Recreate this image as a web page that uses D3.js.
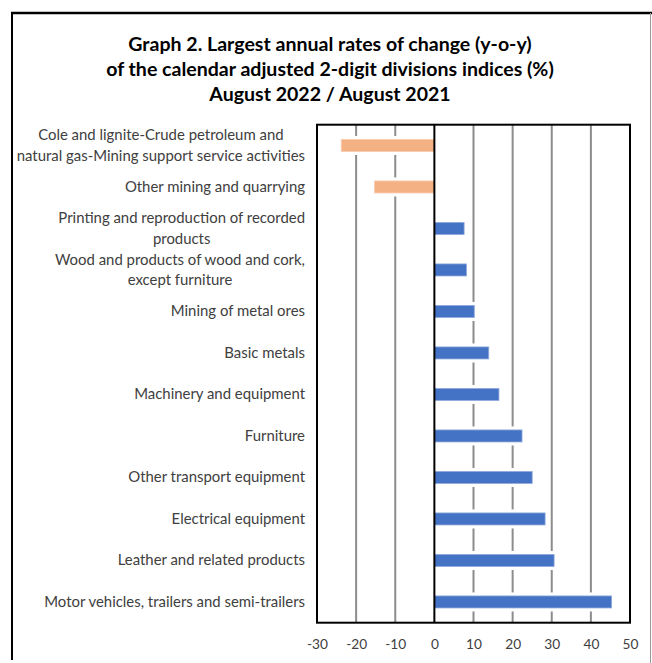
<!DOCTYPE html>
<html>
<head>
<meta charset="utf-8">
<script src="https://cdn.jsdelivr.net/npm/d3@7"></script>
<style>
  html, body { margin: 0; padding: 0; background: #fff; }
  svg { display: block; }
</style>
</head>
<body>
<svg id="chart" width="652" height="663"></svg>
<script>
const titleLines = [
  "Graph 2. Largest annual rates of change (y-o-y)",
  "of the calendar adjusted 2-digit divisions indices (%)",
  "August 2022 / August 2021"
];
const categories = [
  ["Cole and lignite-Crude petroleum and", "natural gas-Mining support service activities"],
  ["Other mining and quarrying"],
  ["Printing and reproduction of recorded", "products"],
  ["Wood and products of wood and cork,", "except furniture"],
  ["Mining of metal ores"],
  ["Basic metals"],
  ["Machinery and equipment"],
  ["Furniture"],
  ["Other transport equipment"],
  ["Electrical equipment"],
  ["Leather and related products"],
  ["Motor vehicles, trailers and semi-trailers"]
];
const values = [-23.8, -15.3, 7.6, 8.2, 10.2, 13.9, 16.5, 22.4, 25.0, 28.3, 30.6, 45.3];
const ticks = [-30, -20, -10, 0, 10, 20, 30, 40, 50];

const svg = d3.select("#chart");
const FONT = "Lato, 'Open Sans', sans-serif";

function fitSize(text, target, weight) {
  const t = svg.append("text").attr("font-family", FONT).attr("font-size", 20)
    .attr("font-weight", weight || "normal").text(text);
  const w = t.node().getComputedTextLength();
  t.remove();
  return 20 * target / w;
}
const titleSize = fitSize(titleLines[1], 448, "bold");
const labelSize = fitSize(categories[11][0], 261);
const tickSize = fitSize("-30", 21);

// outer chart frame
svg.append("line").attr("x1", 12).attr("x2", 12).attr("y1", 13).attr("y2", 660)
  .attr("stroke", "#000").attr("stroke-width", 2);
svg.append("line").attr("x1", 11).attr("x2", 652).attr("y1", 13).attr("y2", 13)
  .attr("stroke", "#000").attr("stroke-width", 2.5);
svg.append("line").attr("x1", 650.5).attr("x2", 650.5).attr("y1", 13).attr("y2", 663)
  .attr("stroke", "#999").attr("stroke-width", 1);

// title
svg.append("g").selectAll("text").data(titleLines).join("text")
  .attr("x", 330).attr("y", (d, i) => 51 + i * 25)
  .attr("text-anchor", "middle")
  .attr("font-family", FONT).attr("font-weight", "bold").attr("font-size", titleSize)
  .attr("fill", "#000").text(d => d);

const plot = { left: 317, right: 630, top: 124.7, bottom: 622.7 };
const x = d3.scaleLinear().domain([-30, 50]).range([plot.left, plot.right]);
const y = d3.scaleBand().domain(d3.range(categories.length))
  .range([plot.top, plot.bottom]).paddingInner(0.71).paddingOuter(0.355);

// gridlines
svg.append("g").selectAll("line").data(ticks.filter(t => t !== 0 && t !== -30 && t !== 50)).join("line")
  .attr("x1", d => x(d)).attr("x2", d => x(d))
  .attr("y1", plot.top).attr("y2", plot.bottom)
  .attr("stroke", "#8c8c8c").attr("stroke-width", 2);

// bars with white halo
const bars = svg.append("g");
bars.selectAll("rect.halo").data(values).join("rect").attr("class", "halo")
  .attr("x", d => Math.min(x(0), x(d)) - 1)
  .attr("width", d => Math.abs(x(d) - x(0)) + 2)
  .attr("y", (d, i) => y(i) - 3.5)
  .attr("height", y.bandwidth() + 7)
  .attr("fill", "#fff");
bars.selectAll("rect.bar").data(values).join("rect").attr("class", "bar")
  .attr("x", d => Math.min(x(0), x(d)))
  .attr("width", d => Math.abs(x(d) - x(0)))
  .attr("y", (d, i) => y(i))
  .attr("height", y.bandwidth())
  .attr("fill", d => d < 0 ? "#F4B183" : "#4472C4")
  .attr("stroke", d => d < 0 ? "#F8CBAD" : "#8FAADC")
  .attr("stroke-width", 0.8);

// zero line
svg.append("line").attr("x1", x(0)).attr("x2", x(0)).attr("y1", plot.top).attr("y2", plot.bottom)
  .attr("stroke", "#000").attr("stroke-width", 2);

// plot frame
svg.append("rect").attr("x", plot.left).attr("y", plot.top)
  .attr("width", plot.right - plot.left).attr("height", plot.bottom - plot.top)
  .attr("fill", "none").attr("stroke", "#000").attr("stroke-width", 2);

// x axis tick labels
const xAxis = d3.axisBottom(x).tickValues(ticks).tickFormat(d => String(d)).tickSize(0).tickPadding(0);
const gx = svg.append("g").attr("transform", `translate(0,${plot.bottom})`).call(xAxis);
gx.select(".domain").remove();
gx.selectAll("text").attr("y", 26.5).attr("dy", 0)
  .attr("font-family", FONT).attr("font-size", tickSize).attr("fill", "#404040");

// category labels
const labelRight = 305;
const lg = svg.append("g");
categories.forEach((lines, i) => {
  const cy = y(i) + y.bandwidth() / 2;
  const lh = 20.5;
  const t = lg.append("text").attr("font-family", FONT).attr("font-size", labelSize).attr("fill", "#404040");
  if (lines.length === 1) {
    t.attr("x", labelRight).attr("y", cy + 5).attr("text-anchor", "end").text(lines[0]);
  } else {
    const tmp = lg.append("text").attr("font-family", FONT).attr("font-size", labelSize);
    let maxW = 0;
    lines.forEach(l => { tmp.text(l); maxW = Math.max(maxW, tmp.node().getComputedTextLength()); });
    tmp.remove();
    const cx = labelRight - maxW / 2;
    t.attr("text-anchor", "middle");
    lines.forEach((l, k) => {
      t.append("tspan").attr("x", cx)
        .attr("y", cy + 5 + (k - (lines.length - 1) / 2) * lh).text(l);
    });
  }
});
</script>
</body>
</html>
